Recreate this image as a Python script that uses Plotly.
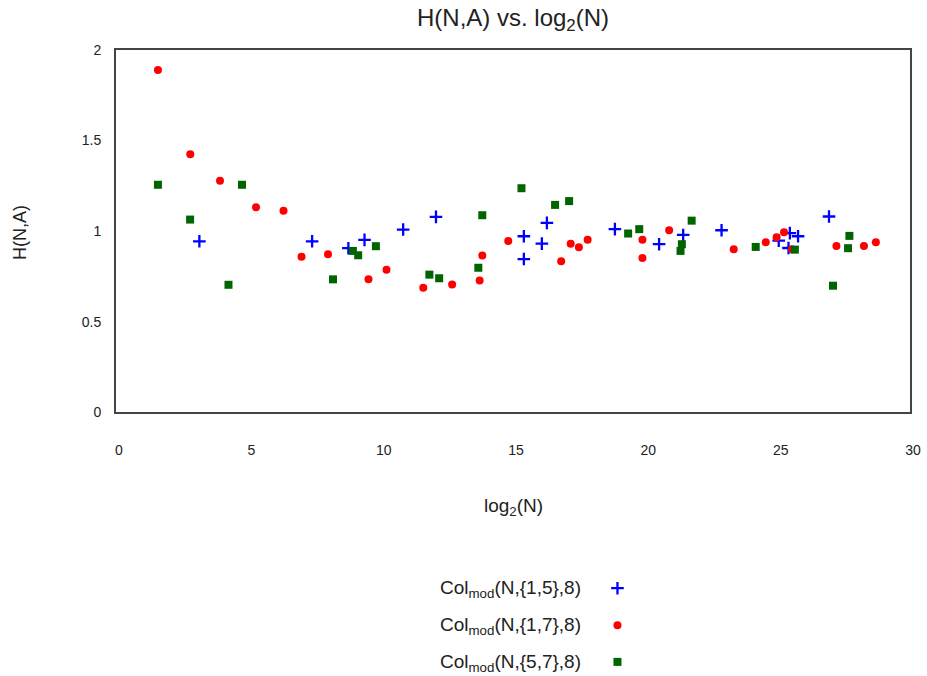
import plotly.graph_objects as go

# ---- data ----
series_names = ["Col<sub>mod</sub>(N,{1,5},8)", "Col<sub>mod</sub>(N,{1,7},8)", "Col<sub>mod</sub>(N,{5,7},8)"]

x_15 = [3.15, 7.41, 8.78, 9.39, 10.85, 12.09, 15.41, 15.41, 16.09, 16.28, 18.85, 20.52,
        21.43, 22.88, 25.04, 25.41, 25.46, 25.77, 26.94]
y_15 = [0.944, 0.944, 0.906, 0.952, 1.009, 1.079, 0.972, 0.846, 0.931, 1.046, 1.011, 0.928,
        0.979, 1.005, 0.948, 0.907, 0.989, 0.972, 1.081]

x_17 = [1.585, 2.807, 3.93, 5.29, 6.33, 7.01, 8.01, 9.54, 10.22, 11.61, 12.70, 13.74, 13.84,
        14.82, 16.82, 17.18, 17.49, 17.82, 19.89, 19.89, 20.90, 23.34, 24.55, 24.96, 25.24,
        25.54, 27.22, 28.26, 28.71]
y_17 = [1.890, 1.424, 1.278, 1.132, 1.112, 0.859, 0.872, 0.734, 0.787, 0.688, 0.706, 0.727, 0.865,
        0.946, 0.834, 0.931, 0.911, 0.952, 0.952, 0.852, 1.005, 0.900, 0.939, 0.966, 0.994,
        0.900, 0.918, 0.918, 0.939]

x_57 = [1.585, 2.80, 4.25, 4.76, 8.20, 8.95, 9.15, 9.82, 11.84, 12.21, 13.69, 13.84, 15.32,
        16.59, 17.12, 19.35, 19.77, 21.33, 21.38, 21.75, 24.17, 25.65, 27.09, 27.66, 27.71]
y_57 = [1.256, 1.064, 0.704, 1.256, 0.734, 0.891, 0.867, 0.917, 0.760, 0.740, 0.798, 1.088, 1.237,
        1.145, 1.166, 0.987, 1.011, 0.891, 0.928, 1.058, 0.913, 0.898, 0.699, 0.906, 0.974]

x_ticks = [0, 5, 10, 15, 20, 25, 30]
y_ticks = [0, 0.5, 1, 1.5, 2]

# ---- styling ----
FONT = "Liberation Sans, Arial, sans-serif"
TXT = "#222222"
colors = ["#0000ff", "#ff0000", "#006400"]
markers = [
    dict(symbol="cross-thin", size=9, color=colors[0], line=dict(width=2.3, color=colors[0])),
    dict(symbol="circle", size=8, color=colors[1], line=dict(width=0)),
    dict(symbol="square", size=8, color=colors[2], line=dict(width=0)),
]

# the capture squeezes the page vertically by ~676/686, so lay out on a 686-tall canvas
K = 686 / 676
W, H = 927, 686

def fy(page_y):  # target page row -> figure row
    return page_y * K

L, R = 115.5, 13.5
T = fy(49.5)
B = 6
plot_bottom = fy(411)
paper_bottom = H - B
dom_low = (paper_bottom - plot_bottom) / (H - T - B)

def ay(page_y):   # target page row -> aux axis value
    return paper_bottom - fy(page_y)

fig = go.Figure()
for xs, ys, name, mk in [(x_15, y_15, series_names[0], markers[0]),
                         (x_17, y_17, series_names[1], markers[1]),
                         (x_57, y_57, series_names[2], markers[2])]:
    fig.add_trace(go.Scatter(x=xs, y=ys, mode="markers", name=name, marker=mk,
                             showlegend=False, xaxis="x", yaxis="y", cliponaxis=False))

# legend drawn on an auxiliary pixel-like axis below the plot (text left, marker right)
legend_rows = [586.5, 623.5, 660]
for i, name in enumerate(series_names):
    fig.add_trace(go.Scatter(x=[619.5], y=[ay(legend_rows[i])], mode="markers",
                             marker=markers[i], showlegend=False, hoverinfo="skip",
                             xaxis="x2", yaxis="y2", cliponaxis=False))
    fig.add_annotation(x=439.5, y=ay(legend_rows[i] + 1), xref="x2", yref="y2", text=name,
                       showarrow=False, xanchor="left", yanchor="middle",
                       font=dict(family=FONT, size=19, color=TXT))

# axis titles
fig.add_annotation(x=514.5, y=ay(505), xref="x2", yref="y2", text="log<sub>2</sub>(N)",
                   showarrow=False, xanchor="center", yanchor="middle",
                   font=dict(family=FONT, size=19, color=TXT))
fig.add_annotation(x=(19 - L) / (W - L - R), y=(paper_bottom - fy(231)) / (H - T - B),
                   xref="paper", yref="paper",
                   text="H(N,A)", textangle=-90, showarrow=False, xanchor="center", yanchor="middle",
                   font=dict(family=FONT, size=18, color=TXT))

fig.update_layout(
    width=W, height=H,
    margin=dict(l=L, r=R, t=T, b=B),
    paper_bgcolor="white", plot_bgcolor="white",
    title=dict(text="H(N,A) vs. log<sub>2</sub>(N)", x=0.5, xref="paper", xanchor="center",
               y=1 - fy(17) / H, yref="container", yanchor="middle",
               font=dict(family=FONT, size=24, color=TXT)),
    xaxis=dict(range=[0, 30], tickvals=x_ticks, showgrid=False, zeroline=False,
               showline=True, mirror=True, linecolor="#444444", linewidth=2,
               ticks="outside", ticklen=24, tickcolor="rgba(0,0,0,0)", ticklabelshift=3,
               tickfont=dict(family=FONT, size=14, color=TXT), anchor="y", domain=[0, 1]),
    yaxis=dict(range=[0, 2], tickvals=y_ticks, showgrid=False, zeroline=False,
               showline=True, mirror=True, linecolor="#444444", linewidth=2,
               ticks="outside", ticklen=10, tickcolor="rgba(0,0,0,0)",
               tickfont=dict(family=FONT, size=14, color=TXT), anchor="x", domain=[dom_low, 1]),
    xaxis2=dict(range=[L, W - R], visible=False, domain=[0, 1], anchor="y2"),
    yaxis2=dict(range=[0, paper_bottom - plot_bottom], visible=False, domain=[0, dom_low], anchor="x2"),
    font=dict(family=FONT, color=TXT),
)

fig.write_html(
    "out.html",
    config={"displayModeBar": False},
    post_script="document.body.style.margin='0';document.body.style.overflow='hidden';"
                "document.documentElement.style.overflow='hidden';",
)
